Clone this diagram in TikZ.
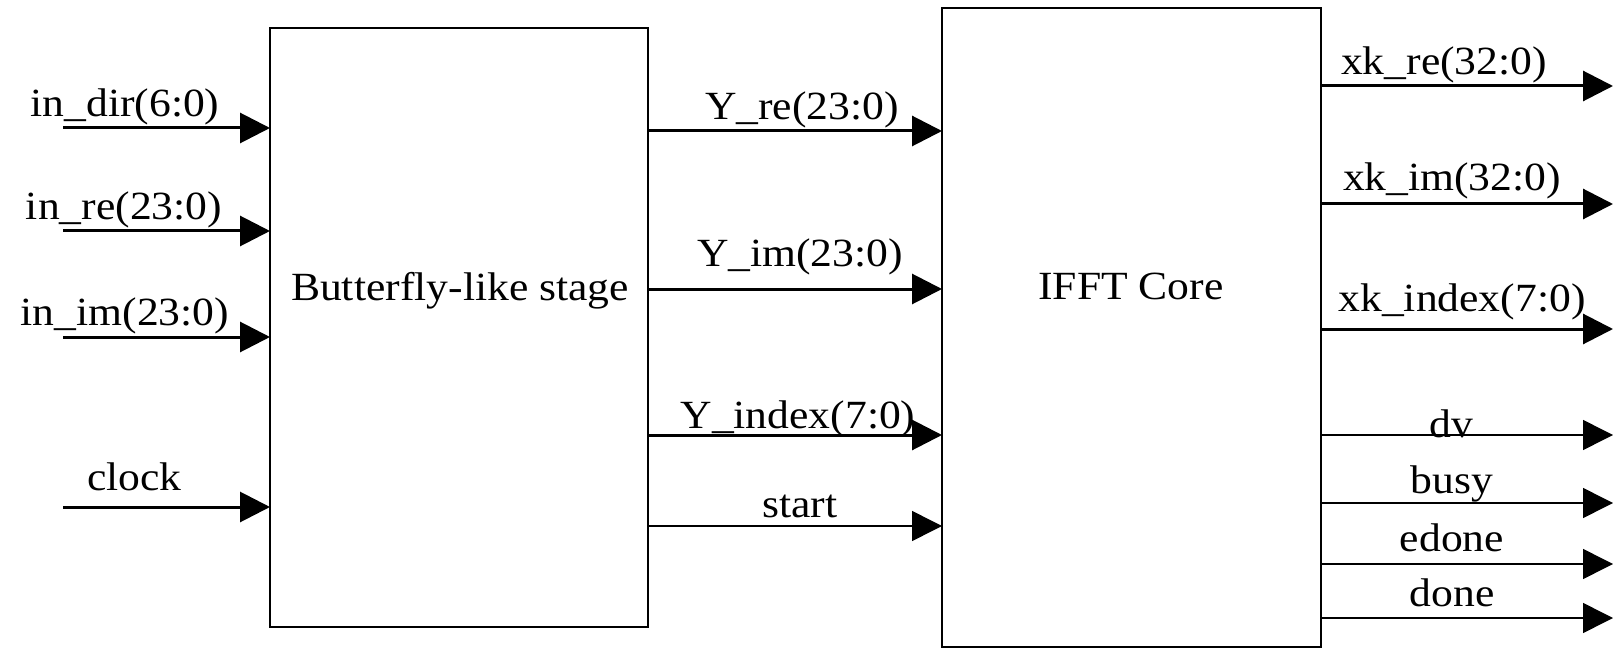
\documentclass[tikz,border=0pt]{standalone}
\usepackage{fontspec}
\setmainfont{Liberation Serif}[FakeStretch=1.09]
\usetikzlibrary{arrows.meta}
\begin{document}
\begin{tikzpicture}[x=1pt,y=-1pt,
  blk/.style={draw, line width=1.5pt, inner sep=0pt, outer sep=0pt},
  txt/.style={font=\fontsize{40}{46}\selectfont, inner sep=0pt, anchor=base},
  bus/.style={line width=3pt, -{Triangle[length=30pt,width=30pt]}},
  wire/.style={line width=1.5pt, -{Triangle[length=30pt,width=30pt]}}]
\useasboundingbox (0,0) rectangle (1623,655);
% blocks
\node[blk, minimum width=378pt, minimum height=599pt] (bfly) at (459,327.5) {};
\node[blk, minimum width=379pt, minimum height=639pt] (ifft) at (1131.5,327.5) {};
\node[txt] (bflylbl) at (460,300) {Butterfly-like stage};
\node[txt] (ifftlbl) at (1131,299) {IFFT Core};
% input start points
\coordinate (i1) at (63,128);
\coordinate (i2) at (63,231);
\coordinate (i3) at (63,337);
\coordinate (i4) at (63,507);
\draw[bus] (i1) -- (bfly.west |- i1);
\draw[bus] (i2) -- (bfly.west |- i2);
\draw[bus] (i3) -- (bfly.west |- i3);
\draw[bus] (i4) -- (bfly.west |- i4);
\node[txt] (li1) at (125,117) {in\_dir(6:0)};
\node[txt] (li2) at (124,220) {in\_re(23:0)};
\node[txt] (li3) at (125,325) {in\_im(23:0)};
\node[txt] (li4) at (134.5,490) {clock};
% middle
\coordinate (m1) at (648,131);
\coordinate (m2) at (648,289);
\coordinate (m3) at (648,435);
\coordinate (m4) at (648,526);
\draw[bus] (m1) -- (ifft.west |- m1);
\draw[bus] (m2) -- (ifft.west |- m2);
\draw[bus] (m3) -- (ifft.west |- m3);
\draw[wire] (m4) -- (ifft.west |- m4);
\node[txt] (lm1) at (802,120) {Y\_re(23:0)};
\node[txt] (lm2) at (800,266) {Y\_im(23:0)};
\node[txt] (lm3) at (798,428) {Y\_index(7:0)};
\node[txt] (lm4) at (800,517) {start};
% outputs
\coordinate (o1) at (1613,86);
\coordinate (o2) at (1613,204);
\coordinate (o3) at (1613,329);
\coordinate (o4) at (1613,435);
\coordinate (o5) at (1613,503);
\coordinate (o6) at (1613,564);
\coordinate (o7) at (1613,618);
\draw[bus] (ifft.east |- o1) -- (o1);
\draw[bus] (ifft.east |- o2) -- (o2);
\draw[bus] (ifft.east |- o3) -- (o3);
\draw[wire] (ifft.east |- o4) -- (o4);
\draw[wire] (ifft.east |- o5) -- (o5);
\draw[wire] (ifft.east |- o6) -- (o6);
\draw[wire] (ifft.east |- o7) -- (o7);
\node[txt] (lo1) at (1444,75) {xk\_re(32:0)};
\node[txt] (lo2) at (1452,191) {xk\_im(32:0)};
\node[txt] (lo3) at (1462,311) {xk\_index(7:0)};
\node[txt] (lo4) at (1451,437) {dv};
\node[txt] (lo5) at (1452,493) {busy};
\node[txt] (lo6) at (1452,551) {edone};
\node[txt] (lo7) at (1452,606) {done};
\end{tikzpicture}
\end{document}
